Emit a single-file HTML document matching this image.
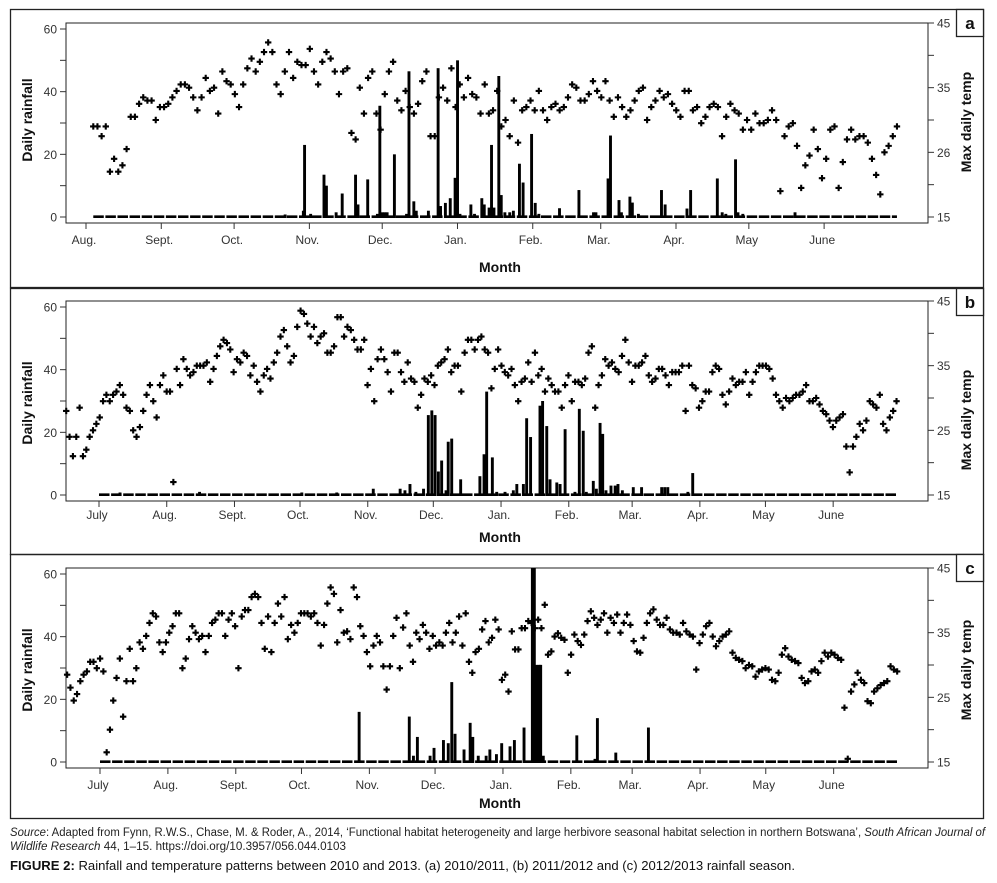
<!DOCTYPE html>
<html><head><meta charset="utf-8"><style>
html,body{margin:0;padding:0;background:#fff;}
svg{display:block;font-family:"Liberation Sans",sans-serif;}
</style></head><body>
<svg id="fig" width="997" height="883" viewBox="0 0 997 883" xmlns="http://www.w3.org/2000/svg">
<g id="panels"></g>
<text x="10" y="836" font-size="11.5" fill="#222" textLength="975" lengthAdjust="spacingAndGlyphs"><tspan font-style="italic">Source</tspan>: Adapted from Fynn, R.W.S., Chase, M. &amp; Roder, A., 2014, ‘Functional habitat heterogeneity and large herbivore seasonal habitat selection in northern Botswana’, <tspan font-style="italic">South African Journal of</tspan></text>
<text x="10" y="850" font-size="11.5" fill="#222" textLength="336" lengthAdjust="spacingAndGlyphs"><tspan font-style="italic">Wildlife Research</tspan> 44, 1–15. https://doi.org/10.3957/056.044.0103</text>
<text x="10" y="870" font-size="13" fill="#111" textLength="785" lengthAdjust="spacingAndGlyphs"><tspan font-weight="bold">FIGURE 2:</tspan> Rainfall and temperature patterns between 2010 and 2013. (a) 2010/2011, (b) 2011/2012 and (c) 2012/2013 rainfall season.</text>
</svg>
<script>
// ---------- Panel a (2010/2011), days from 1 Aug ----------
const monthsA = ["Aug.","Sept.","Oct.","Nov.","Dec.","Jan.","Feb.","Mar.","Apr.","May","June"];
const monthDaysA = [0,31,61,92,122,153,184,212,243,273,304];
const tempRangeA = [3,334];
const tempsA = [29,29,27.5,29,22,24,22,23,25.5,30.5,30.5,32.5,33.5,33,33,30,32,32,32.5,33.5,34.5,35.5,35.5,35,33.5,31.5,33.5,36.5,34.5,35,31,37.5,36,35.5,34,32,35.5,38,39.5,37.5,39,40.5,42,40.5,35.5,34,37.5,40.5,36.5,39,38.5,38.5,41,37.5,35.5,39,40.5,39.5,37.5,34,37.5,38,28,27,35,31,36.5,37.5,31,28.5,34,37.5,39,33,31.5,34.5,32,31,32.5,36,37.5,27.5,27.5,33.5,35,33,38,32,35.5,33.5,36.5,34,33.5,31,35.5,31,31.5,34.5,29,30,27.5,33,26.5,
31.5,32,33,31.5,34.5,31.5,30,32,32.5,31.5,32,33.5,35.5,35,33,33,34,36,34.5,33.5,36,33,30.5,33.5,32,30.5,31.5,33,34.5,35,30,32,33,34.5,33.5,34,32.5,31.5,30.5,34.5,34.5,31.5,32,29.5,30.5,32,32.5,32,27.5,30.5,32.5,31.5,31,28.5,30,28.5,31,29.5,29.5,30,31.5,30,19,27.5,29,29.5,26,19.5,23,24.5,28.5,25.5,21,24,28.5,29,19.5,23.5,27,28.5,27,27.5,27.5,26.5,24,21.5,18.5,25,26,27.5,29];
const rainDaysA = [82,89.5,90,92.5,98,99,103,105.5,111,112,116,120,121,122,123,124,127,132,133,135,136,141,145,146,148,150,152,153,154,158.5,160,163,164,166,167,168,170,171,172.5,174.5,176,178.5,180,183.5,185,186.5,195,203,209,210,215,216,219.5,220.5,224,225,227.5,237,238.5,247.5,249,260,262,263.5,267.5,268.5,270.5,292];
const rainValsA = [0.8,2,23,1,13.5,10,1.5,7.5,13.5,4,12,1,35.5,1.5,1.5,1.5,20,1,46.5,5,2,2,47.5,3.5,4.5,6,12.5,50,1,4,1,6,4,3,23,3,45,7,1.5,1.5,2,17,11,26.5,4.5,1,2.8,8.6,1.5,1.5,12.3,26,5.4,1.5,6.5,4.6,1,8.6,4,2.7,8.6,12.3,1.5,1,18.4,1.5,1,1.5];
const zeroRangeA = [3,334];

// ---------- Panel b (2011/2012), days from 1 July ----------
const monthsB = ["July","Aug.","Sept.","Oct.","Nov.","Dec.","Jan.","Feb.","Mar.","Apr.","May","June"];
const monthDaysB = [0,31,62,92,123,153,184,215,244,275,305,336];
const tempRangeB = [-15,365];
const tempsB = [28,24,21,24,28.5,21,22,24,25,26,27,29.5,30.5,29.5,30.5,31,32,30.5,28.5,28,25,24,25.5,28,30.5,32,29.5,27,32,33.5,31,31,17,34.5,32,36,34.5,33.5,34,35,35,35,35.5,32.5,34.5,36.5,38,39,38.5,37.5,34,36,35.5,37,36.5,33.5,35,32.5,31,33.5,34.5,33,35.5,37,39.5,40.5,38,35.5,36.5,41,43.5,43,41.5,39.5,41,38.5,39.5,40,37,37,38,42.5,42.5,39.5,41,40.5,39,37.5,37.5,39,32,34.5,29.5,36,37.5,36,34,31,37,37,34,32.5,35.5,33,32.5,28.5,30.5,33,32.5,33.5,32,35,35.5,36,37.5,34,35,35,31,37,39,39,37.5,39,39.5,37.5,37,31.5,34.5,37.5,35,34,33.5,34.5,
32,29.5,32.5,33,35.5,32.5,37,33.5,34.5,31,33,32,31,31,28.5,32,33.5,29.5,32.5,32.5,32,33,37,38,28.5,32,33.5,36,35,35.5,34.5,34,36.5,39,35.5,32.5,35,35,35.5,36.5,33.5,32.5,33,34.5,34.5,33.5,32,34,34,34,35,28,35,32,31.5,28.5,29.5,31,31,34,35,34.5,30.5,29,31,33,32,32.5,32.5,34,30.5,32.5,34,35,35,35,34.5,33,30.5,29.5,28.5,30,29.5,30,30.5,30.5,31,32,29.5,29.5,30,29,28,27.5,26.5,25.5,26.5,27,27.5,22.5,18.5,22.5,24,26,25,26.5,29.5,29,28.5,30.5,26,25,27,28,29.5];
const rainDaysB = [9.6,46,92.8,108.8,125.5,137.8,140,142.3,145,148.5,150.7,152.3,153.8,155.3,156.8,158.8,159.8,161.4,165.5,174.3,176.2,177.4,180,182,185.8,189.6,191.2,194.2,195.7,197.5,201.8,203,204.9,206.4,209.5,211,213.3,217.8,219.8,221.6,223,226.2,227.6,229.3,230.5,232,234.3,236.2,237.5,239.5,244.5,248.3,257.5,258.9,260.3,269.5,271.7];
const rainValsB = [0.8,1,0.8,0.8,2,2,1.5,3.5,1,2,25.5,27,25.5,7.5,11,1.5,17,18,5,6,13,33,12,1,1,1.5,3.5,3.5,24.5,18.5,28.5,30,22,5,4,3.5,21,1,27.5,20.5,1,4.5,2,23,19.5,1.5,3,3,3.5,1.5,2.5,2.5,2.5,2.5,2.5,1,7];
const zeroRangeB = [0,365];

// ---------- Panel c (2012/2013), days from 1 July ----------
const monthsC = ["July","Aug.","Sept.","Oct.","Nov.","Dec.","Jan.","Feb.","Mar.","Apr.","May","June"];
const monthDaysC = [0,31,62,92,123,153,184,215,243,274,304,335];
const tempRangeC = [-15,364];
const tempsC = [28.5,26.5,24.5,25.5,27.5,28.5,29,30.5,30.5,29.5,31,29,16.5,20,24.5,28,31,22,27.5,32.5,27.5,29.5,33.5,32.5,34.5,36.5,38,37.5,33.5,32,33.5,35,36,38,38,29.5,31,34,36,35,34,34.5,32,34.5,36.5,37,38,38,34.5,37,38,36,29.5,37.5,38.5,38.5,40.5,41,40.5,36.5,32.5,37.5,32,36.5,39.5,37.5,40.5,34,36.2,35,36.5,38,38,38,37.5,38,36.5,33,36.2,39.5,42,41,33.5,38.5,35,35.2,34,42,40.5,36,34.5,32,29.8,33,34.5,33.5,29.8,26.2,29.8,34.5,37.3,29.5,35.8,38,33,30.5,35,34,36.2,35,32.5,34.5,33,33.5,33,35,36.5,33.5,35,37.5,33,38,30.5,28.8,32,32.5,35.5,36.8,33.5,34.2,37,35.5,27.7,
28.5,25.9,35.2,32.4,32.4,35.7,35.7,36.8,36.5,35.7,37,35.7,39.3,31.6,32.1,34.4,34.9,34.2,33.9,28.8,31.6,34.7,33.7,33.1,34.7,36.8,38.3,37.3,36.2,37,38,35,37.3,36.5,37.8,35,36.5,37.8,36.2,33.7,32.1,31.9,34.2,36.5,38,38.6,37,36.2,36.2,37.3,35.5,35,35,34.7,36.5,35.2,34.7,34.4,29.3,33.4,34.7,36,36.5,34.4,32.9,33.7,34.4,34.7,35.2,31.9,31.1,30.8,30.6,29.5,30,29.8,28.2,29,29.3,29.5,29.3,27.7,27.5,28.8,31.6,32.6,31.3,30.8,30.6,30.3,28,27.2,27.5,29,29.3,28.8,30.6,31.9,31.3,31.9,31.6,31.1,30.8,23.4,15.5,25.9,27,28.8,27.7,27.2,24.4,24.1,25.9,26.4,26.9,27.2,27.5,29.8,29.3,29];
const rainDaysC = [118.3,141.2,143.1,144.9,150.7,152.5,156.8,159,160.6,162.1,166.2,169,170.2,172.7,176.3,178,181,183.4,187.2,189.2,193.6,197.4,198.3,199.4,200.5,201.2,202.4,217.7,226,227.1,235.5,250.4];
const rainValsC = [16,14.5,2,8,2,4.5,7,6,25.5,9,4,12.5,8,2,2,4,2.5,6,5,7,11,62,62,31,31,31,2,8.5,1,14,3,11];
const zeroRangeC = [0,364];

const NS = "http://www.w3.org/2000/svg";
function mk(tag, attrs, parent){
  const e = document.createElementNS(NS, tag);
  for (const k in attrs) e.setAttribute(k, attrs[k]);
  parent.appendChild(e);
  return e;
}

function drawPanel(cfg){
  const root = document.getElementById('panels');
  const g = mk('g', {}, root);
  
  
  const xS = d => cfg.x0 + d * cfg.k;
  const yL = v => cfg.yL0 + (cfg.yL60 - cfg.yL0) * v / 60;
  const yR = t => cfg.yR15 + (cfg.yR45 - cfg.yR15) * (t - 15) / 30;

  const box = mk('rect', {x:10.5, y:cfg.boxTop+0.5, width:973, height:cfg.boxBot-cfg.boxTop, fill:'none', stroke:'#222', 'stroke-width':1.3}, g);
  
  
  const lb = mk('rect', {x:956.5, y:cfg.boxTop+0.5, width:27, height:27, fill:'#fff', stroke:'#222', 'stroke-width':1.3}, g);
  
  
  const lt = mk('text', {x:970, y:cfg.boxTop+20, 'text-anchor':'middle', 'font-size':17, 'font-weight':'bold', fill:'#111'}, g);
  lt.textContent = cfg.letter;
  
  

  const fr = mk('rect', {x:66, y:cfg.plotTop, width:862, height:cfg.plotBot-cfg.plotTop, fill:'none', stroke:'#222', 'stroke-width':1}, g);
  
  

  for (let v = 0; v <= 60; v += 10){
    const y = yL(v);
    const t = mk('line', {x1:60, x2:66, y1:y, y2:y, stroke:'#333', 'stroke-width':1}, g);
    
    
    if (v % 20 === 0){
      const tx = mk('text', {x:57, y:y+4.5, 'text-anchor':'end', 'font-size':12, fill:'#333'}, g);
      tx.textContent = String(v);
      
      
    }
  }
  for (let t = 15; t <= 45; t += 5){
    const y = yR(t);
    const tk = mk('line', {x1:928, x2:934, y1:y, y2:y, stroke:'#333', 'stroke-width':1}, g);
    
    
  }
  cfg.rightLabels.forEach((lab, i) => {
    const y = yR(cfg.rightLabelPos[i]);
    const tx = mk('text', {x:937, y:y+4.5, 'font-size':12, fill:'#333'}, g);
    tx.textContent = lab;
    
    
  });
  cfg.months.forEach((m, i) => {
    const x = xS(cfg.monthDays[i]);
    const tk = mk('line', {x1:x, x2:x, y1:cfg.plotBot, y2:cfg.plotBot+6, stroke:'#333', 'stroke-width':1}, g);
    
    
    const tx = mk('text', {x:x-2, y:cfg.monthY, 'text-anchor':'middle', 'font-size':12, fill:'#333'}, g);
    tx.textContent = m;
    
    
  });
  const xt = mk('text', {x:500, y:cfg.titleY, 'text-anchor':'middle', 'font-size':14, 'font-weight':'bold', fill:'#111'}, g);
  xt.textContent = 'Month';
  
  
  const yt = mk('text', {x:0, y:0, 'text-anchor':'middle', 'font-size':14, 'font-weight':'bold', fill:'#111', transform:'translate(32,'+cfg.yTitleMid+') rotate(-90)'}, g);
  yt.textContent = 'Daily rainfall';
  
  
  const rt = mk('text', {x:0, y:0, 'text-anchor':'middle', 'font-size':14, 'font-weight':'bold', fill:'#111', transform:'translate(971,'+cfg.rTitleMid+') rotate(-90)'}, g);
  rt.textContent = 'Max daily temp';
  
  

  const zl = mk('line', {x1:xS(cfg.zeroRange[0]), x2:xS(cfg.zeroRange[1]), y1:yL(0)-0.3, y2:yL(0)-0.3, stroke:'#000', 'stroke-width':2.6, 'stroke-dasharray':'10.5 1.6'}, g);
  
  

  cfg.rainDays.forEach((d, i) => {
    const v = Math.min(cfg.rainVals[i], 60 * (cfg.yL0 - cfg.plotTop) / (cfg.yL0 - cfg.yL60));
    const y = yL(v);
    const b = mk('rect', {x:xS(d)-1.4, y:y, width:2.9, height:Math.max(yL(0)+1-y, 1.5), fill:'#000'}, g);
    
    
  });

  const n = cfg.temps.length;
  const step = (cfg.tempRange[1] - cfg.tempRange[0]) / (n - 1);
  cfg.temps.forEach((t, i) => {
    const x = xS(cfg.tempRange[0] + i * step);
    const y = yR(t);
    const p = mk('path', {d:'M'+(x-3.2)+' '+y+'h6.4M'+x+' '+(y-3.2)+'v6.4', stroke:'#000', 'stroke-width':2.1, fill:'none'}, g);
    
    
  });
}

drawPanel({letter:'a', boxTop:9, boxBot:287, plotTop:23, plotBot:223,
  yL0:217, yL60:29, yR15:217, yR45:23, x0:86, k:2.428,
  months:monthsA, monthDays:monthDaysA, temps:tempsA, tempRange:tempRangeA,
  rainDays:rainDaysA, rainVals:rainValsA, zeroRange:zeroRangeA,
  rightLabels:["45","35","26","15"], rightLabelPos:[45,35,25,15],
  monthY:244, titleY:272, yTitleMid:120, rTitleMid:122});
drawPanel({letter:'b', boxTop:288, boxBot:554, plotTop:301, plotBot:501,
  yL0:495, yL60:307, yR15:495, yR45:301, x0:99, k:2.185,
  months:monthsB, monthDays:monthDaysB, temps:tempsB, tempRange:tempRangeB,
  rainDays:rainDaysB, rainVals:rainValsB, zeroRange:zeroRangeB,
  rightLabels:["45","35","25","15"], rightLabelPos:[45,35,25,15],
  monthY:519, titleY:542, yTitleMid:403, rTitleMid:420});
drawPanel({letter:'c', boxTop:554, boxBot:818, plotTop:568, plotBot:768,
  yL0:762, yL60:574, yR15:762, yR45:568, x0:100, k:2.19,
  months:monthsC, monthDays:monthDaysC, temps:tempsC, tempRange:tempRangeC,
  rainDays:rainDaysC, rainVals:rainValsC, zeroRange:zeroRangeC,
  rightLabels:["45","35","25","15"], rightLabelPos:[45,35,25,15],
  monthY:789, titleY:808, yTitleMid:670, rTitleMid:670});
</script>
</body></html>
